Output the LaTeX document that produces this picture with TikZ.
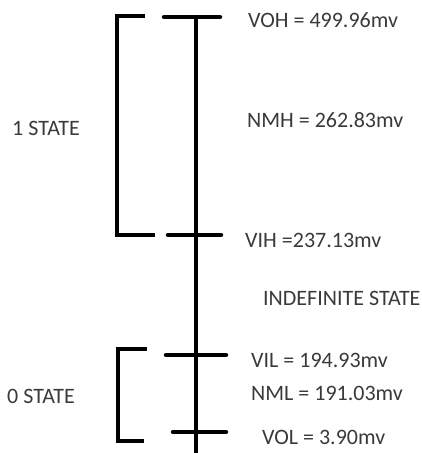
\documentclass[tikz,border=0pt]{standalone}
\usepackage{fontspec}
\setmainfont{Carlito}
\usepackage{tikz}
\usetikzlibrary{positioning}
\definecolor{ink}{HTML}{000000}
\definecolor{txt}{HTML}{3A3A3A}

\begin{document}
\begin{tikzpicture}[x=1pt,y=-1pt,
  bar/.style={draw=ink,line width=4.5pt,line cap=round},
  tick/.style={draw=ink,line width=4.5pt,line cap=round},
  lbl/.style={anchor=base west,inner sep=0pt,text=txt,font=\fontsize{22}{24}\selectfont}]
  \useasboundingbox (0,0) rectangle (422,453);
  % main level line
  \coordinate (top) at (196,17);
  \coordinate (bot) at (196,453);
  \draw[bar,line cap=butt] (top) -- (bot);
  % ticks on the level line
  \coordinate (voha) at (164,17);  \coordinate (vohb) at (220,17);
  \coordinate (viha) at (168,235); \coordinate (vihb) at (221,235);
  \coordinate (vila) at (166,355); \coordinate (vilb) at (226,355);
  \coordinate (vola) at (173,432); \coordinate (volb) at (226,432);
  \draw[tick] (voha) -- (vohb);
  \draw[tick] (viha) -- (vihb);
  \draw[tick] (vila) -- (vilb);
  \draw[tick] (vola) -- (volb);
  % 1 state bracket
  \coordinate (one1) at (145,16);
  \coordinate (one2) at (155,235);
  \draw[bar,line cap=butt] (one1) -- (117,16) -- (117,235) -- (one2);
  % 0 state bracket
  \coordinate (zero1) at (147,349);
  \coordinate (zero2) at (144,441);
  \draw[bar,line cap=butt] (zero1) -- (118,349) -- (118,441) -- (zero2);
  % labels
  \node[lbl] (voh) at (248,27) {VOH = 499.96mv};
  \node[lbl] (nmh) at (247,127) {NMH = 262.83mv};
  \node[lbl] (vih) at (245,247) {VIH =237.13mv};
  \node[lbl] (ind) at (263,305) {INDEFINITE STATE};
  \node[lbl] (vil) at (251,367) {VIL = 194.93mv};
  \node[lbl] (nml) at (251,400) {NML = 191.03mv};
  \node[lbl] (vol) at (262,444) {VOL = 3.90mv};
  \node[lbl] (st1) at (12,135) {1 STATE};
  \node[lbl] (st0) at (7,403) {0 STATE};
\end{tikzpicture}
\end{document}
